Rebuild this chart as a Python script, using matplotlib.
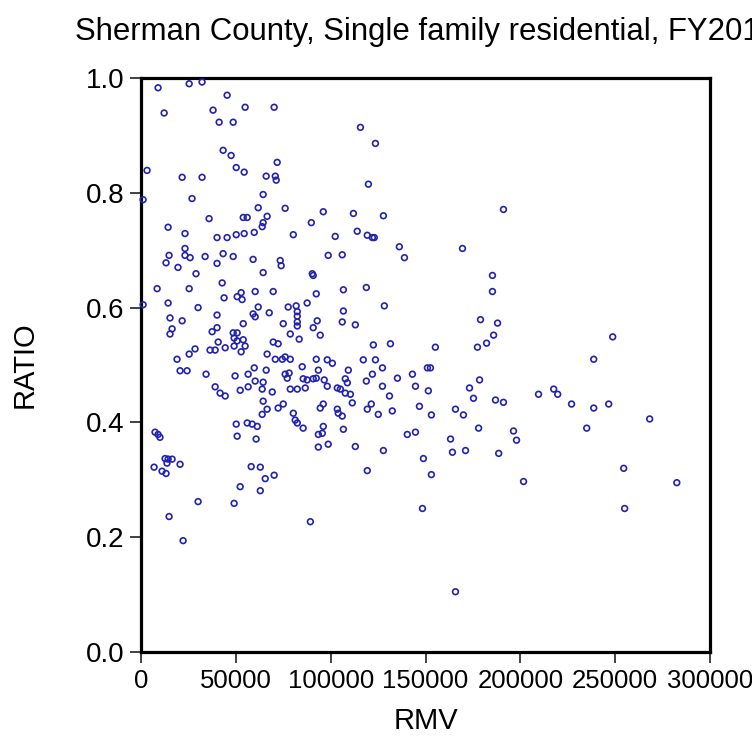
import matplotlib
matplotlib.use("Agg")
import matplotlib.pyplot as plt

# RMV (x) and RATIO (y)
rmv = [
    9000, 25400, 32200, 45400, 12200, 38000, 54900, 70200, 41200, 48600,
    43300, 47500, 50200, 54400, 71800, 3200, 21700, 32200, 66000, 70800,
    71300, 1100, 26900, 64400, 61800, 66500, 76000, 96100, 35900, 53900,
    56000, 64400, 63900, 89800, 14300, 23200, 40100, 45400, 50200, 54400,
    59700, 80300, 14800, 13200, 23200, 23200, 25900, 33800, 43300, 48600,
    59100, 73400, 73900, 19500, 98700, 40100, 29000, 64400, 90300, 90800,
    8500, 25400, 42800, 43800, 50700, 52800, 53300, 60200, 69700, 92400,
    1100, 14300, 30100, 40100, 59100, 60200, 61800, 67600, 77600, 81800,
    82400, 82400, 87600, 15300, 21700, 16400, 15300, 37500, 40100, 48600,
    50700, 49100, 50700, 53900, 75000, 82400, 82400, 90800, 92900, 78700,
    83400, 94500, 40700, 53900, 54900, 69700, 72300, 19000, 25400, 28500,
    36400, 39100, 44400, 49100, 52800, 66500, 70800, 74500, 76000, 78700,
    92400, 20600, 24300, 34300, 49600, 59700, 56500, 66000, 76000, 78100,
    77100, 85000, 93500, 85500, 87600, 90800, 92400, 96600, 98200, 60200,
    64400, 39100, 41700, 44400, 52300, 56500, 63900, 69200, 78700, 82400,
    86600, 64400, 66500, 63900, 72300, 75000, 80300, 81300, 82400, 94500,
    96100, 50200, 56000, 58600, 61300, 85500, 96100, 95600, 93500, 50700,
    60700, 93500, 98700, 7400, 9000, 10000, 12700, 14300, 16400, 13700,
    20600, 6900, 11100, 13200, 30100, 14800, 22200, 58100, 62900, 65500,
    70200, 52300, 62900, 49100, 89300, 115700, 123600, 119900, 112000, 127800,
    191100, 114000, 102400, 119300, 122000, 123000, 106100, 136200, 138900, 169500,
    185300, 185300, 106700, 118800, 128300, 106700, 106100, 113000, 122500, 131500,
    155200, 179000, 188000, 185900, 177400, 182200, 98200, 100900, 117200, 123600,
    127300, 151000, 152600, 109300, 143100, 135200, 103500, 105100, 107700, 108800,
    107700, 110400, 111400, 118800, 122000, 127300, 131000, 144700, 151500, 103500,
    104000, 106100, 119300, 121400, 125100, 132500, 146800, 153100, 173200, 175300,
    178500, 165800, 170000, 186900, 191100, 106700, 140400, 144700, 113000, 127800,
    119300, 148900, 153100, 163200, 164200, 171100, 178000, 196400, 198000, 188600,
    148400, 165800, 248700, 238700, 209600, 217600, 219700, 227000, 238700, 246600,
    268200, 235000, 201700, 254500, 282500, 255000,
]
ratio = [
    0.983, 0.990, 0.993, 0.970, 0.939, 0.944, 0.949, 0.949, 0.923, 0.923,
    0.874, 0.865, 0.844, 0.836, 0.853, 0.839, 0.827, 0.827, 0.829, 0.829,
    0.822, 0.788, 0.790, 0.797, 0.774, 0.759, 0.773, 0.767, 0.755, 0.757,
    0.757, 0.748, 0.741, 0.748, 0.740, 0.729, 0.722, 0.722, 0.727, 0.729,
    0.731, 0.727, 0.691, 0.678, 0.703, 0.691, 0.687, 0.689, 0.694, 0.689,
    0.684, 0.682, 0.673, 0.670, 0.691, 0.677, 0.659, 0.661, 0.659, 0.656,
    0.633, 0.633, 0.643, 0.617, 0.619, 0.626, 0.614, 0.628, 0.628, 0.624,
    0.605, 0.608, 0.600, 0.587, 0.589, 0.584, 0.601, 0.591, 0.601, 0.603,
    0.593, 0.585, 0.608, 0.582, 0.577, 0.563, 0.554, 0.558, 0.565, 0.556,
    0.556, 0.547, 0.542, 0.572, 0.572, 0.575, 0.568, 0.565, 0.577, 0.554,
    0.545, 0.552, 0.540, 0.544, 0.533, 0.540, 0.537, 0.510, 0.519, 0.528,
    0.526, 0.526, 0.530, 0.533, 0.523, 0.519, 0.510, 0.510, 0.514, 0.510,
    0.510, 0.490, 0.490, 0.484, 0.481, 0.495, 0.484, 0.491, 0.484, 0.486,
    0.477, 0.497, 0.491, 0.476, 0.474, 0.476, 0.477, 0.474, 0.463, 0.472,
    0.470, 0.462, 0.451, 0.446, 0.456, 0.462, 0.458, 0.453, 0.458, 0.458,
    0.460, 0.437, 0.423, 0.414, 0.425, 0.432, 0.416, 0.404, 0.399, 0.425,
    0.432, 0.397, 0.399, 0.397, 0.393, 0.390, 0.393, 0.381, 0.379, 0.376,
    0.371, 0.357, 0.362, 0.383, 0.379, 0.374, 0.337, 0.336, 0.336, 0.329,
    0.327, 0.322, 0.315, 0.311, 0.262, 0.236, 0.194, 0.323, 0.322, 0.302,
    0.308, 0.288, 0.281, 0.259, 0.227, 0.914, 0.886, 0.815, 0.764, 0.760,
    0.771, 0.733, 0.724, 0.726, 0.722, 0.722, 0.692, 0.706, 0.687, 0.703,
    0.656, 0.628, 0.631, 0.635, 0.603, 0.594, 0.575, 0.570, 0.535, 0.537,
    0.531, 0.579, 0.573, 0.552, 0.531, 0.538, 0.509, 0.503, 0.509, 0.509,
    0.495, 0.495, 0.495, 0.491, 0.484, 0.477, 0.460, 0.458, 0.476, 0.469,
    0.451, 0.449, 0.434, 0.472, 0.484, 0.463, 0.446, 0.463, 0.455, 0.423,
    0.416, 0.411, 0.423, 0.432, 0.414, 0.420, 0.428, 0.413, 0.460, 0.442,
    0.474, 0.423, 0.413, 0.439, 0.435, 0.388, 0.379, 0.383, 0.358, 0.351,
    0.316, 0.337, 0.309, 0.371, 0.348, 0.351, 0.390, 0.385, 0.369, 0.346,
    0.250, 0.105, 0.549, 0.510, 0.449, 0.458, 0.449, 0.432, 0.425, 0.432,
    0.406, 0.390, 0.297, 0.320, 0.295, 0.250,
]

xticks = [0, 50000, 100000, 150000, 200000, 250000, 300000]
yticks = [0.0, 0.2, 0.4, 0.6, 0.8, 1.0]
title = "Sherman County, Single family residential, FY201"

plt.rcParams['font.family'] = ['Liberation Sans', 'DejaVu Sans']

fig = plt.figure(figsize=(7.52, 7.47), dpi=100)
ax = fig.add_axes([141 / 752, 95 / 747, 569 / 752, 574 / 747])

ax.scatter(rmv, ratio, s=17, facecolors='none', edgecolors='#2222b0',
           linewidths=1.2, clip_on=False, zorder=3)

ax.set_xlim(0, 300000)
ax.set_ylim(0, 1.0)
ax.set_xticks(xticks)
ax.set_xticklabels([str(t) for t in xticks])
ax.set_yticks(yticks)
ax.set_yticklabels([f"{t:.1f}" for t in yticks])
ax.tick_params(direction='out', length=8, width=1.3, pad=4, color='#333333')
ax.tick_params(axis='x', labelsize=18.5)
ax.tick_params(axis='y', labelsize=20)

for sp in ax.spines.values():
    sp.set_linewidth(2.3)

ax.set_xlabel("RMV", fontsize=21)
ax.xaxis.set_label_coords(0.5, -0.095)
ax.xaxis.label.set_va('top')
ax.set_ylabel("RATIO", fontsize=21)
ax.yaxis.set_label_coords(-0.18, 0.5)

# title runs past the right edge, as in the reference
fig.text(75 / 752, 1 - 32 / 747, title, fontsize=22.4, va='center', ha='left')

fig.savefig("out.png", dpi=100)
